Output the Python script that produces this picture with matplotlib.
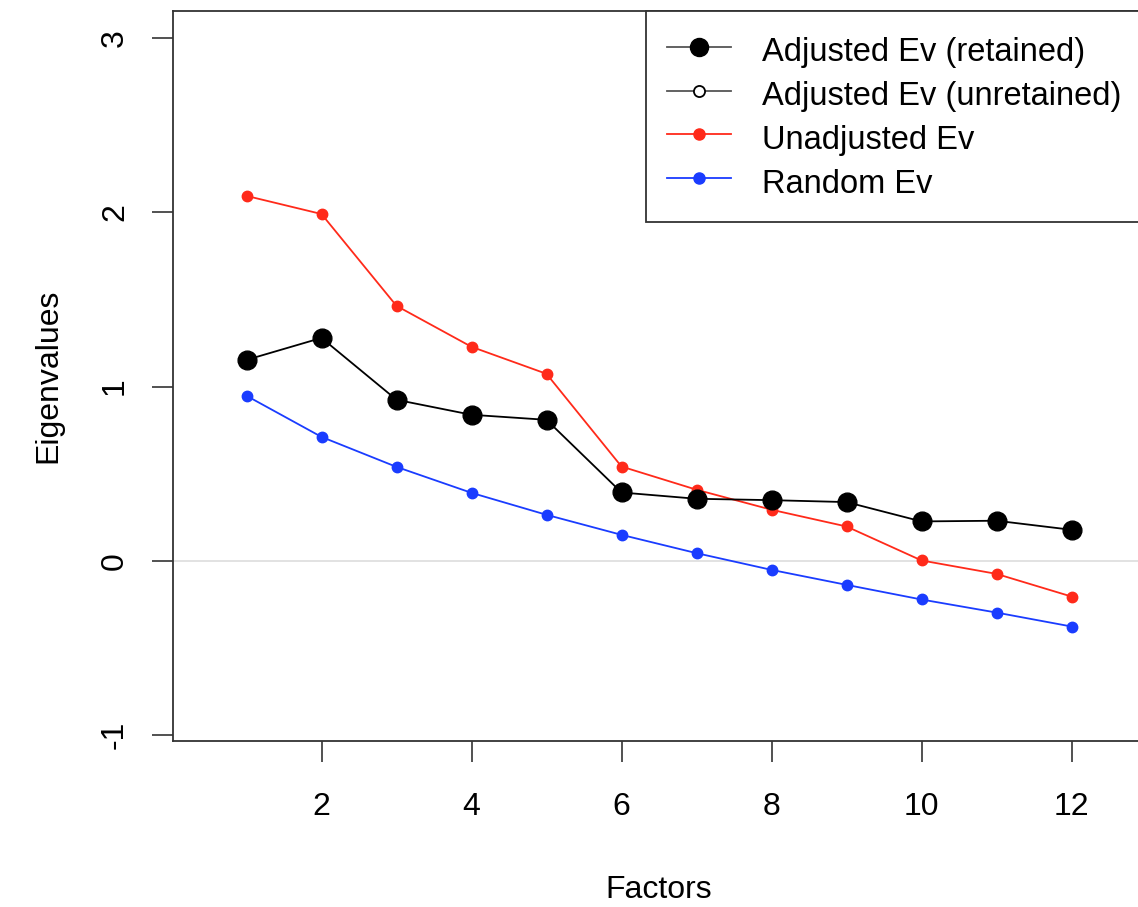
import matplotlib
matplotlib.use("Agg")
import matplotlib.pyplot as plt
import numpy as np
from matplotlib.lines import Line2D

plt.rcParams['font.family'] = ['Liberation Sans', 'DejaVu Sans']
plt.rcParams['axes.unicode_minus'] = False

factors = np.arange(1, 13)
adjusted_ev = [1.153, 1.279, 0.924, 0.838, 0.809, 0.392, 0.356, 0.348, 0.337, 0.226, 0.230, 0.178]
unadjusted_ev = [2.094, 1.990, 1.463, 1.228, 1.073, 0.541, 0.408, 0.293, 0.197, 0.002, -0.075, -0.205]
random_ev = [0.947, 0.711, 0.539, 0.390, 0.264, 0.149, 0.044, -0.052, -0.138, -0.222, -0.297, -0.377]
legend_labels = ['Adjusted Ev (retained)', 'Adjusted Ev (unretained)', 'Unadjusted Ev', 'Random Ev']

W, H = 1138, 907
fig = plt.figure(figsize=(W / 100, H / 100), dpi=100)
# axes box in pixels: left 173, top 11, bottom 741, right beyond the picture
ax = fig.add_axes([173 / W, (H - 741) / H, (1145 - 173) / W, (741 - 11) / H])

ax.axhline(0, color='#dddddd', lw=1.2, zorder=1)
ax.plot(factors, unadjusted_ev, color='#ff2a1a', lw=1.3, marker='o', ms=7.5, zorder=2)
ax.plot(factors, random_ev, color='#1a3cff', lw=1.3, marker='o', ms=7.5, zorder=2)
ax.plot(factors, adjusted_ev, color='black', lw=1.3, marker='o', ms=13.5, zorder=3)

ax.set_xlim(0.02, 12.98)
ax.set_ylim(-1.034, 3.155)
ax.set_xticks([2, 4, 6, 8, 10, 12])
ax.set_yticks([-1, 0, 1, 2, 3])
ax.tick_params(axis='both', length=15, width=1.2, labelsize=23, color='#333333')
ax.tick_params(axis='x', pad=22)
ax.tick_params(axis='y', pad=16)
for lab in ax.get_yticklabels():
    lab.set_rotation(90)
    lab.set_va('center')
for sp in ax.spines.values():
    sp.set_linewidth(1.3)
    sp.set_color('#333333')

ax.set_xlabel('Factors', fontsize=23, labelpad=38)
ax.set_ylabel('Eigenvalues', fontsize=23, labelpad=26)

handles = [
    Line2D([], [], color='#555555', lw=1.3, marker='o', ms=13, mfc='black', mec='black'),
    Line2D([], [], color='#555555', lw=1.3, marker='o', ms=8, mfc='white', mec='black', mew=1.3),
    Line2D([], [], color='#ff2a1a', lw=1.3, marker='o', ms=8),
    Line2D([], [], color='#1a3cff', lw=1.3, marker='o', ms=8),
]
leg = fig.legend(handles, legend_labels, loc='upper left',
                 bbox_to_anchor=(646 / W, (H - 11) / H), fontsize=23.5,
                 frameon=True, fancybox=False, framealpha=1, edgecolor='#333333',
                 handlelength=1.95, handletextpad=0.95, handleheight=1.35,
                 labelspacing=0.22, borderpad=0.65, borderaxespad=0)
leg.get_frame().set_linewidth(1.3)

fig.savefig('out.png', dpi=100)
